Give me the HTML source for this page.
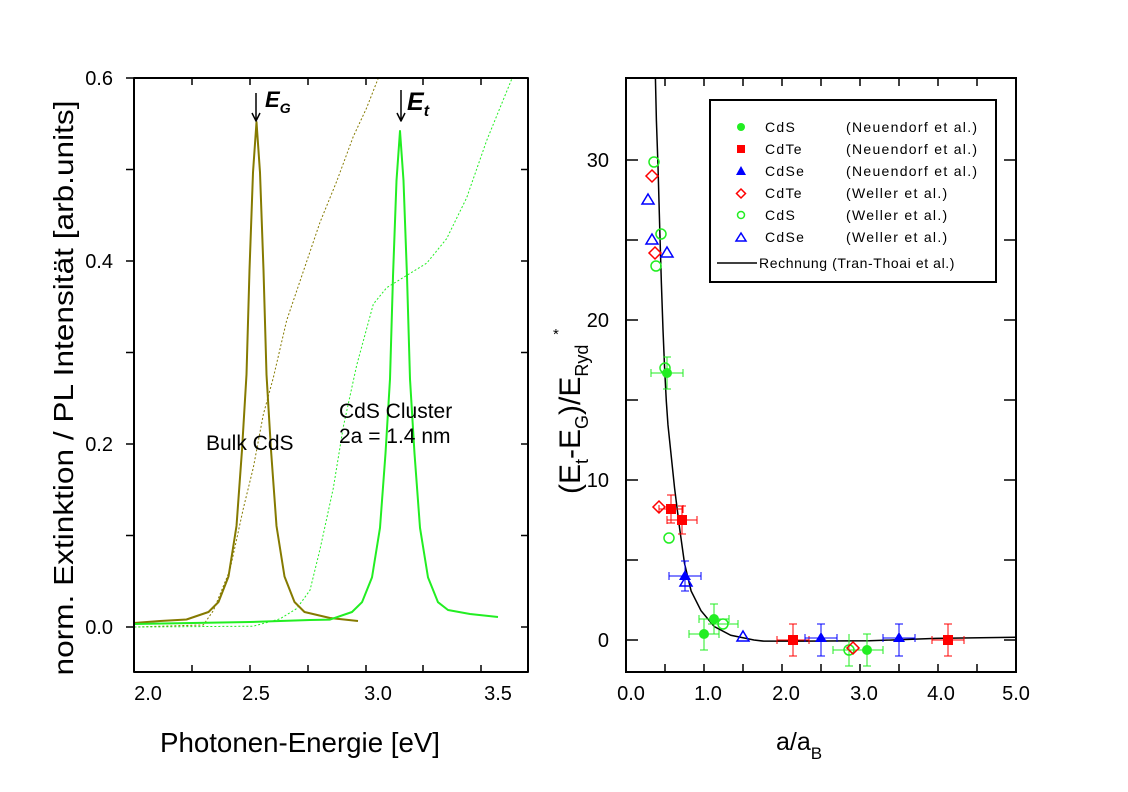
<!DOCTYPE html>
<html><head><meta charset="utf-8"><style>
html,body{margin:0;padding:0;background:#fff}
svg{display:block;font-family:"Liberation Sans",Arial,sans-serif}
</style></head><body>
<svg width="1128" height="792" viewBox="0 0 1128 792" xmlns="http://www.w3.org/2000/svg">
<rect width="1128" height="792" fill="#fff"/>
<g fill="none" stroke-linejoin="round">
<g transform="translate(120,78) scale(0.33333,0.4088) translate(0,-47)">
<polyline vector-effect="non-scaling-stroke" stroke="#857a00" stroke-width="1" stroke-dasharray="2,2" points="43,1390 250,1385 280,1350 330,1250 370,1100 400,1000 430,870 460,780 500,640 550,520 600,400 650,300 700,190 740,120 775,47"/>
<polyline vector-effect="non-scaling-stroke" stroke="#22ee22" stroke-width="1" stroke-dasharray="2,2" points="43,1390 400,1388 480,1370 530,1345 570,1300 600,1200 640,1050 670,900 710,750 760,600 800,560 860,530 920,500 980,440 1040,340 1100,200 1175,50"/>
</g>
<polyline stroke="#857a00" stroke-width="2" points="134,623 160,621 186.5,619.5 208.5,612 218.5,602 228.5,576.5 236.5,526 242,450 246.5,374.5 249.5,270 253,172.5 256.5,122 260,172.5 263.5,270 266.5,374.5 271,450 276.5,526 284.5,576.5 294.5,602 304.5,612 330,618 358,621"/>
<polyline stroke="#22ee22" stroke-width="2" points="134,624 250,622 310,620 330,619.6 352,612 362,602.2 372,577.4 380,527.8 385.5,453.4 390,379 393,276.3 396.5,180.6 400,131 403.5,180.6 407,276.3 410,379 414.5,453.4 420,527.8 428,577.4 438,602.2 448,610 470,614 498,617"/>
<rect x="134" y="78" width="394" height="594" stroke="#000" stroke-width="2"/>
<g stroke="#000" stroke-width="1.5">
<path d="M192,78v7M250,78v7M308,78v7M366,78v7M423,78v7M481,78v7"/>
<path d="M192,672v-7M250,672v-7M308,672v-7M366,672v-7M423,672v-7M481,672v-7"/>
<path d="M126,78h8M126,169.5h8M126,261h8M126,352.5h8M126,444h8M126,535.5h8M126,627h8"/>
<path d="M528,169.5h-7M528,261h-7M528,352.5h-7M528,444h-7M528,535.5h-7M528,627h-7"/>
<path d="M256,93v27M252,113l4,8l4,-8M401,90v31M397,113l4,8l4,-8"/>
</g>
</g>
<g font-size="20" fill="#000">
<g text-anchor="end"><text x="113" y="85">0.6</text><text x="113" y="268">0.4</text><text x="113" y="451">0.2</text><text x="113" y="634">0.0</text></g>
<g text-anchor="middle"><text x="148" y="700">2.0</text><text x="256" y="700">2.5</text><text x="378" y="700">3.0</text><text x="498" y="700">3.5</text></g>
<text x="206" y="450" font-size="21">Bulk CdS</text>
<text x="339" y="418" font-size="21">CdS Cluster</text>
<text x="339" y="443" font-size="21">2a = 1.4 nm</text>
</g>
<text x="265" y="107" font-size="22" font-weight="bold" font-style="italic">E<tspan font-size="14" dy="6">G</tspan></text>
<text x="407" y="110" font-size="25" font-weight="bold" font-style="italic">E<tspan font-size="16" dy="6">t</tspan></text>
<text x="300" y="752" font-size="28" text-anchor="middle" textLength="280" lengthAdjust="spacingAndGlyphs">Photonen-Energie [eV]</text>
<text transform="translate(73,388) rotate(-90)" font-size="28" text-anchor="middle" textLength="575" lengthAdjust="spacingAndGlyphs">norm. Extinktion / PL Intensität [arb.units]</text>

<g fill="none">
<g transform="translate(626,78) scale(0.3305,0.3952) translate(-63,-22)">
<polyline vector-effect="non-scaling-stroke" stroke="#000" stroke-width="1.5" points="152,22 155,130 160,250 165,400 170,540 175,660 180,760 185,840 190,900 200,980 210,1060 225,1160 240,1250 260,1320 290,1370 330,1410 380,1432 450,1444 480,1447 600,1447 800,1446 1000,1440 1243,1437"/>
</g>
<rect x="626" y="78" width="390" height="594" stroke="#000" stroke-width="2"/>
<g stroke="#000" stroke-width="1.5">
<path d="M665,78v8M704,78v8M743,78v8M782,78v8M821,78v8M860,78v8M899,78v8M938,78v8M977,78v8"/>
<path d="M665,672v-8M704,672v-8M743,672v-8M782,672v-8M821,672v-8M860,672v-8M899,672v-8M938,672v-8M977,672v-8"/>
<path d="M626,160h12M626,240h12M626,320h12M626,400h12M626,480h12M626,560h12M626,640h12"/>
<path d="M1016,160h-12M1016,240h-12M1016,320h-12M1016,400h-12M1016,480h-12M1016,560h-12M1016,640h-12"/>
</g>
<g stroke-width="1">
<path stroke="#22ee22" d="M651,373h32M651,369v8M683,369v8M667,357v32M663,357h8M663,389h8"/>
<path stroke="#ff0000" d="M659,509h24M659,505v8M683,505v8M671,495v28M667,495h8M667,523h8M667,520h30M667,516v8M697,516v8M682,506v28M678,506h8M678,534h8"/>
<path stroke="#0000ff" d="M669,576h32M669,572v8M701,572v8M685,561v30M681,561h8M681,591h8"/>
<path stroke="#22ee22" d="M699,619h30M699,615v8M729,615v8M714,604v30M710,604h8M710,634h8M708,624h30M738,620v8M689,634h30M689,630v8M719,630v8M704,619v31M700,650h8"/>
<path stroke="#ff0000" d="M777,640h32M777,636v8M809,636v8M793,624v32M789,624h8M789,656h8M932,640h32M932,636v8M964,636v8M948,624v32M944,624h8M944,656h8"/>
<path stroke="#0000ff" d="M805,638h32M805,634v8M837,634v8M821,624v32M817,624h8M817,656h8M883,638h32M883,634v8M915,634v8M899,624v32M895,624h8M895,656h8"/>
<path stroke="#22ee22" d="M833,650h50M833,646v8M883,646v8M849,634v32M845,666h8M867,634v32M863,634h8M863,666h8"/>
</g>
<g stroke-width="1.5">
<g stroke="#22ee22"><circle cx="654" cy="162" r="5"/><circle cx="661" cy="234" r="5"/><circle cx="656" cy="266" r="5"/><circle cx="665" cy="368" r="5"/><circle cx="669" cy="538" r="5"/><circle cx="723" cy="624" r="5"/><circle cx="849" cy="650" r="5"/></g>
<g stroke="#ff0000"><path d="M652,170l6,6l-6,6l-6,-6z M655,247l6,6l-6,6l-6,-6z M659,501l6,6l-6,6l-6,-6z M853,642l6,6l-6,6l-6,-6z"/></g>
<g stroke="#0000ff"><path d="M648,194l6,10h-12z M652,234l6,10h-12z M667,247l6,10h-12z M686,576l6,10h-12z M743,631l6,10h-12z"/></g>
</g>
<g fill="#22ee22"><circle cx="667" cy="373" r="5"/><circle cx="714" cy="619" r="5"/><circle cx="704" cy="634" r="5"/><circle cx="867" cy="650" r="5"/></g>
<g fill="#ff0000"><rect x="666" y="504" width="10" height="10"/><rect x="677" y="515" width="10" height="10"/><rect x="788" y="635" width="10" height="10"/><rect x="943" y="635" width="10" height="10"/></g>
<g fill="#0000ff"><path d="M685,570l6,10h-12z M821,632l6,10h-12z M899,632l6,10h-12z"/></g>
<rect x="710" y="100" width="286" height="182" stroke="#000" stroke-width="2" fill="#fff"/>
<circle cx="741" cy="127" r="4" fill="#22ee22"/>
<rect x="737" y="145" width="8" height="8" fill="#ff0000"/>
<path d="M741,166l5,9h-10z" fill="#0000ff"/>
<path d="M741,189l4.5,4.5l-4.5,4.5l-4.5,-4.5z" stroke="#ff0000" stroke-width="1.5"/>
<circle cx="741" cy="215" r="3.5" stroke="#22ee22" stroke-width="1.5"/>
<path d="M741,233l5,8h-10z" stroke="#0000ff" stroke-width="1.5"/>
<path d="M717,263h40" stroke="#000" stroke-width="1.5"/>
</g>
<g font-size="14" fill="#000" letter-spacing="1.3">
<text x="765" y="132">CdS</text><text x="846" y="132">(Neuendorf et al.)</text>
<text x="765" y="154">CdTe</text><text x="846" y="154">(Neuendorf et al.)</text>
<text x="765" y="176">CdSe</text><text x="846" y="176">(Neuendorf et al.)</text>
<text x="765" y="198">CdTe</text><text x="846" y="198">(Weller et al.)</text>
<text x="765" y="220">CdS</text><text x="846" y="220">(Weller et al.)</text>
<text x="765" y="242">CdSe</text><text x="846" y="242">(Weller et al.)</text>
<text x="759" y="268" letter-spacing="0.6">Rechnung (Tran-Thoai et al.)</text>
</g>
<g font-size="20" fill="#000">
<g text-anchor="end"><text x="609" y="167">30</text><text x="609" y="327">20</text><text x="609" y="487">10</text><text x="609" y="647">0</text></g>
<g text-anchor="middle"><text x="631" y="700">0.0</text><text x="708" y="700">1.0</text><text x="786" y="700">2.0</text><text x="864" y="700">3.0</text><text x="941" y="700">4.0</text><text x="1016" y="700">5.0</text></g>
</g>
<text x="776" y="750" font-size="25">a/a<tspan font-size="17" dy="9">B</tspan></text>
<text transform="translate(580,494) rotate(-90)" font-size="30">(E<tspan font-size="18" dy="8">t</tspan><tspan dy="-8">-E</tspan><tspan font-size="18" dy="8">G</tspan><tspan dy="-8">)/E</tspan><tspan font-size="18" dy="8">Ryd</tspan></text>
<text x="553" y="339" font-size="15">*</text>
</svg>
</body></html>
